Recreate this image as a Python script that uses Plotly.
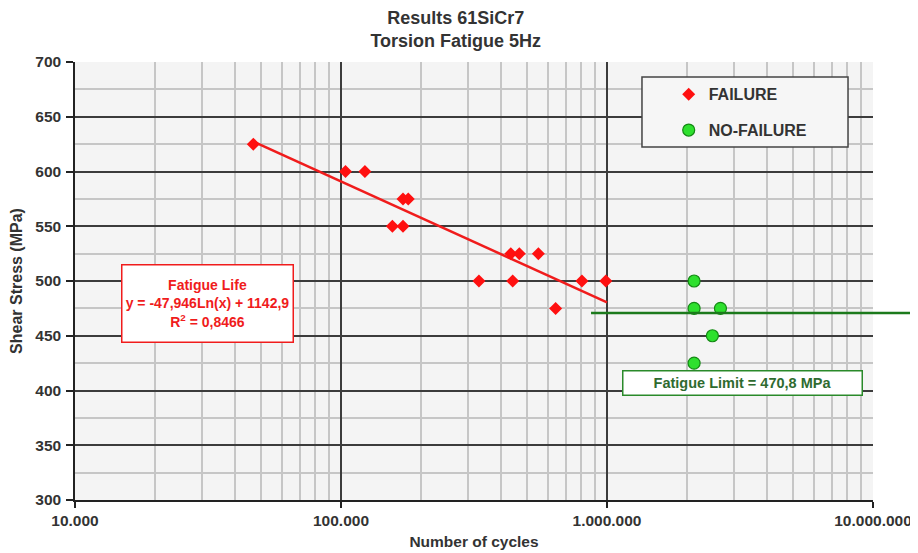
import math
import plotly.graph_objects as go

# ---- data ----
fail_cycles = [46800, 104000, 123000, 156000, 171000, 171000, 179000, 330000,
               435000, 442000, 468000, 552000, 641000, 805000, 990000]
fail_stress = [625, 600, 600, 550, 550, 575, 575, 500,
               525, 500, 525, 525, 475, 500, 500]

nofail_cycles = [2125000, 2125000, 2670000, 2490000, 2125000]
nofail_stress = [500, 475, 475, 450, 425]

trend_slope = -47.946
trend_intercept = 1142.9
trend_x = [46800, 1000000]

fatigue_limit = 470.8
fatigue_limit_start = 871000

x_tickvals = [1e4, 1e5, 1e6, 1e7]
x_ticktext = ["10.000", "100.000", "1.000.000", "10.000.000"]
x_minor = [m * d for d in (1e4, 1e5, 1e6) for m in range(2, 10)]
y_tickvals = [300, 350, 400, 450, 500, 550, 600, 650, 700]

FONT = "Liberation Sans, Arial, sans-serif"
RED = "#f01c1c"
TXT = "#333333"

trend_y = [trend_slope * math.log(v) + trend_intercept for v in trend_x]

fig = go.Figure()

fig.add_trace(go.Scatter(
    x=trend_x, y=trend_y, mode="lines",
    line=dict(color=RED, width=2.5), showlegend=False, hoverinfo="skip"))

fig.add_trace(go.Scatter(
    x=fail_cycles, y=fail_stress, mode="markers", name="FAILURE",
    legendgroup="a",
    marker=dict(symbol="diamond", size=10, color="#ff1010",
                line=dict(width=0))))

fig.add_trace(go.Scatter(
    x=nofail_cycles, y=nofail_stress, mode="markers", name="NO-FAILURE",
    legendgroup="b",
    marker=dict(symbol="circle", size=12, color="#2ee02e",
                line=dict(width=1.2, color="#138a13"))))

# fatigue limit line (inside plot, then extending into right margin)
fig.add_shape(type="line", xref="x", yref="y",
              x0=fatigue_limit_start, x1=x_tickvals[-1],
              y0=fatigue_limit, y1=fatigue_limit,
              line=dict(color="#1c7a1c", width=2.5))
fig.add_shape(type="line", xref="paper", yref="y",
              x0=1.0, x1=1.06, y0=fatigue_limit, y1=fatigue_limit,
              line=dict(color="#1c7a1c", width=2.5))

# legend frame
fig.add_shape(type="rect", xref="paper", yref="paper",
              x0=0.7105, x1=0.9687, y0=0.806, y1=0.9658,
              fillcolor="#f6f6f6", line=dict(color="#444444", width=1.5),
              layer="above")

fig.add_annotation(
    xref="paper", yref="paper", x=0.166, y=0.4475,
    xanchor="center", yanchor="middle",
    text=("<b>Fatigue Life</b><br><b>y = -47,946Ln(x) + 1142,9</b><br>"
          "<b>R<sup>2</sup> = 0,8466</b>"),
    showarrow=False, font=dict(family=FONT, size=14, color=RED),
    align="center", bgcolor="white", bordercolor=RED, borderwidth=1.5,
    borderpad=0, width=170, height=76)

fig.add_annotation(
    xref="paper", yref="paper", x=0.837, y=0.268,
    xanchor="center", yanchor="middle",
    text="<b>Fatigue Limit = 470,8 MPa</b>",
    showarrow=False, font=dict(family=FONT, size=14.5, color="#2f6b2f"),
    align="center", bgcolor="white", bordercolor="#2a8a2a", borderwidth=1.5,
    borderpad=1, width=236, height=21)

fig.update_layout(
    width=910, height=545,
    margin=dict(l=67, r=45, t=54, b=53, autoexpand=False),
    paper_bgcolor="white", plot_bgcolor="#f4f4f4",
    font=dict(family=FONT, color=TXT),
    title=dict(text="<b>Results 61SiCr7</b><br><b>Torsion Fatigue 5Hz</b>",
               x=0.492, xref="container", xanchor="center",
               y=0.971, yref="container", yanchor="middle",
               font=dict(family=FONT, size=18, color=TXT)),
    showlegend=True,
    legend=dict(x=0.744, y=0.965, xref="paper", yref="paper",
                xanchor="left", yanchor="top",
                bgcolor="rgba(0,0,0,0)", borderwidth=0,
                font=dict(family=FONT, size=16, color=TXT, weight="bold"),
                tracegroupgap=12, itemsizing="trace"),
    xaxis=dict(type="log", range=[4, 7], automargin=False,
               tickvals=x_tickvals, ticktext=x_ticktext,
               tickfont=dict(family=FONT, size=15.5, color=TXT, weight="bold"),
               ticks="outside", ticklen=6, tickcolor="#222", tickwidth=1.5,
               showline=True, linecolor="#222", linewidth=1.5,
               showgrid=True, gridcolor="#3c3c3c", gridwidth=1.5,
               minor=dict(tickvals=x_minor, showgrid=True,
                          gridcolor="#c6c6c6", gridwidth=1.5, ticks=""),
               zeroline=False,
               title=dict(text="<b>Number of cycles</b>", standoff=8,
                          font=dict(family=FONT, size=15.5, color=TXT))),
    yaxis=dict(range=[300, 700], tickvals=y_tickvals, automargin=False,
               tickfont=dict(family=FONT, size=15.5, color=TXT, weight="bold"),
               ticks="outside", ticklen=7, tickcolor="#222", tickwidth=1.5,
               ticklabelstandoff=2,
               showline=True, linecolor="#222", linewidth=1.5,
               showgrid=True, gridcolor="#3c3c3c", gridwidth=1.5,
               minor=dict(dtick=25, showgrid=True,
                          gridcolor="#c6c6c6", gridwidth=1.5, ticks=""),
               zeroline=False,
               title=dict(text="<b>Shear Stress (MPa)</b>", standoff=15,
                          font=dict(family=FONT, size=16, color=TXT))),
)

fig.write_html("out.html")
